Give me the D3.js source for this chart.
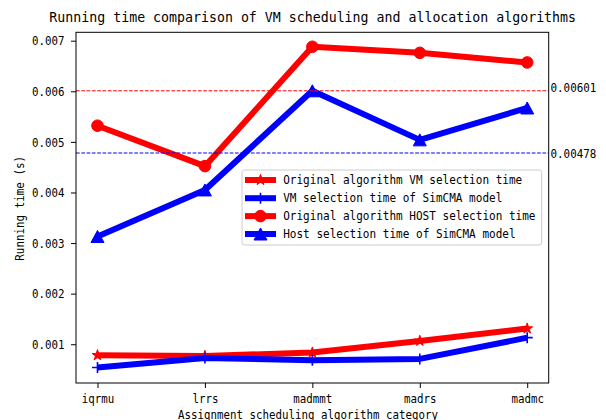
<!DOCTYPE html>
<html>
<head>
<meta charset="utf-8">
<script src="https://cdn.jsdelivr.net/npm/d3@7"></script>
<style>
  html, body { margin: 0; padding: 0; background: #ffffff; }
  svg { display: block; }
  text { font-family: "DejaVu Sans Mono", "Liberation Mono", monospace; fill: #000; }
</style>
</head>
<body>
<svg id="chart" width="606" height="420"></svg>
<script>
// Algorithm categories along the x axis
const categories = ["iqrmu", "lrrs", "madmmt", "madrs", "madmc"];

// Running time (s) per algorithm
const vmOriginal   = [0.000782, 0.000769, 0.000836, 0.001066, 0.00131];
const vmSimCMA     = [0.000539, 0.00073, 0.000684, 0.00071, 0.00113];
const hostOriginal = [0.00532, 0.00452, 0.00688, 0.00676, 0.00657];
const hostSimCMA   = [0.00313, 0.00405, 0.00601, 0.00504, 0.00567];

// Mean host selection times shown as dashed reference lines
const refValues = [0.00601, 0.00478];
const refLabels = ["0.00601", "0.00478"];

const yTicks = [0.001, 0.002, 0.003, 0.004, 0.005, 0.006, 0.007];
const yDomain = [0.000234, 0.007166];

const seriesNames = [
  "Original algorithm VM selection time",
  "VM selection time of SimCMA model",
  "Original algorithm HOST selection time",
  "Host selection time of SimCMA model"
];

const RED = "#ff0000", BLUE = "#0000ff";

const svg = d3.select("#chart");
const plotLeft = 76, plotRight = 548.7, plotTop = 32.3, plotBottom = 383;

const x = d3.scalePoint().domain(categories).range([plotLeft, plotRight]).padding(0.2);
const y = d3.scaleLinear().domain(yDomain).range([plotBottom, plotTop]);

// fixed-advance text, like a CJK font's half-width Latin glyphs
function label(sel, str, cw) {
  return sel.text(str)
    .attr("textLength", str.length * cw)
    .attr("lengthAdjust", "spacingAndGlyphs");
}

// marker shapes
function triangleUp(w, h) {
  return `M0,${-h / 2}L${w / 2},${h / 2}L${-w / 2},${h / 2}Z`;
}
const markers = {
  star: g => g.append("path")
    .attr("d", d3.symbol().type(d3.symbolStar).size(36)())
    .attr("fill", RED).attr("stroke", RED).attr("stroke-width", 1),
  plus: g => g.append("path")
    .attr("d", "M-5.5,0H5.5M0,-5.5V5.5")
    .attr("fill", "none").attr("stroke", BLUE).attr("stroke-width", 1.6),
  circle: g => g.append("circle").attr("r", 5.8)
    .attr("fill", RED).attr("stroke", RED).attr("stroke-width", 1),
  triangle: g => g.append("path").attr("d", triangleUp(13, 12))
    .attr("fill", BLUE).attr("stroke", BLUE).attr("stroke-width", 1)
};

const series = [
  { name: seriesNames[0], values: vmOriginal,   color: RED,  marker: "star" },
  { name: seriesNames[1], values: vmSimCMA,     color: BLUE, marker: "plus" },
  { name: seriesNames[2], values: hostOriginal, color: RED,  marker: "circle" },
  { name: seriesNames[3], values: hostSimCMA,   color: BLUE, marker: "triangle" }
];

const plot = svg.append("g");
const line = d3.line().x((d, i) => x(categories[i])).y(d => y(d));

series.forEach(s => {
  plot.append("path")
    .datum(s.values)
    .attr("d", line)
    .attr("fill", "none")
    .attr("stroke", s.color)
    .attr("stroke-width", 6)
    .attr("stroke-linejoin", "round")
    .attr("stroke-linecap", "butt");
  s.values.forEach((v, i) => {
    const g = plot.append("g").attr("transform", `translate(${x(categories[i])},${y(v)})`);
    markers[s.marker](g);
  });
});

// dashed reference lines with their values at the right edge
const refColors = [RED, BLUE];
const refDy = [1.3, 4.6];
refValues.forEach((v, i) => {
  plot.append("line")
    .attr("x1", plotLeft).attr("x2", plotRight)
    .attr("y1", y(v)).attr("y2", y(v))
    .attr("stroke", refColors[i]).attr("stroke-width", 1)
    .attr("stroke-dasharray", "3.7,1.6");
  label(svg.append("text")
    .attr("x", plotRight + 1.8)
    .attr("y", y(v) + refDy[i])
    .attr("font-size", 11.5), refLabels[i], 6.55);
});

// axes frame
svg.append("rect")
  .attr("x", plotLeft).attr("y", plotTop)
  .attr("width", plotRight - plotLeft).attr("height", plotBottom - plotTop)
  .attr("fill", "none").attr("stroke", "#000").attr("stroke-width", 1);

// y axis
const yAxis = svg.append("g").attr("transform", `translate(${plotLeft},0)`)
  .call(d3.axisLeft(y).tickValues(yTicks).tickSize(5).tickFormat(d3.format(".3f")));
yAxis.select(".domain").remove();
yAxis.selectAll(".tick line").attr("stroke", "#000").attr("stroke-width", 1);
yAxis.selectAll(".tick text").each(function (d) {
  const t = d3.select(this);
  t.attr("x", -11.5).attr("dy", null).attr("y", 4.2)
    .attr("font-size", 11.5).attr("font-family", null).attr("fill", "#000");
  label(t, d3.format(".3f")(d), 6.5);
});

// x axis
const xAxis = svg.append("g").attr("transform", `translate(0,${plotBottom})`)
  .call(d3.axisBottom(x).tickSize(5));
xAxis.select(".domain").remove();
xAxis.selectAll(".tick line").attr("stroke", "#000").attr("stroke-width", 1);
xAxis.selectAll(".tick text").each(function (d) {
  const t = d3.select(this);
  t.attr("y", 19.7).attr("dy", null)
    .attr("font-size", 11.5).attr("font-family", null).attr("fill", "#000");
  label(t, d, 6.5);
});

// titles
label(svg.append("text")
  .attr("x", 312.7).attr("y", 22)
  .attr("text-anchor", "middle")
  .attr("font-size", 13.8),
  "Running time comparison of VM scheduling and allocation algorithms", 7.98);

label(svg.append("text")
  .attr("x", 308).attr("y", 418.5)
  .attr("text-anchor", "middle")
  .attr("font-size", 11.5),
  "Assignment scheduling algorithm category", 6.5);

label(svg.append("text")
  .attr("transform", "translate(24,208.3) rotate(-90)")
  .attr("text-anchor", "middle")
  .attr("font-size", 11.5),
  "Running time (s)", 6.55);

// legend
const legend = svg.append("g");
legend.append("rect")
  .attr("x", 242).attr("y", 170)
  .attr("width", 299.7).attr("height", 75)
  .attr("rx", 2.5).attr("ry", 2.5)
  .attr("fill", "#ffffff").attr("fill-opacity", 0.8)
  .attr("stroke", "#cccccc").attr("stroke-width", 1);

const rowY = [180, 198.2, 216.1, 234];
series.forEach((s, i) => {
  const ry = rowY[i];
  legend.append("line")
    .attr("x1", 245).attr("x2", 276)
    .attr("y1", ry).attr("y2", ry)
    .attr("stroke", s.color).attr("stroke-width", 6);
  markers[s.marker](legend.append("g").attr("transform", `translate(260.5,${ry})`));
  label(legend.append("text")
    .attr("x", 283.2).attr("y", ry + 4.2)
    .attr("font-size", 11.5), s.name, 6.64);
});
</script>
</body>
</html>
